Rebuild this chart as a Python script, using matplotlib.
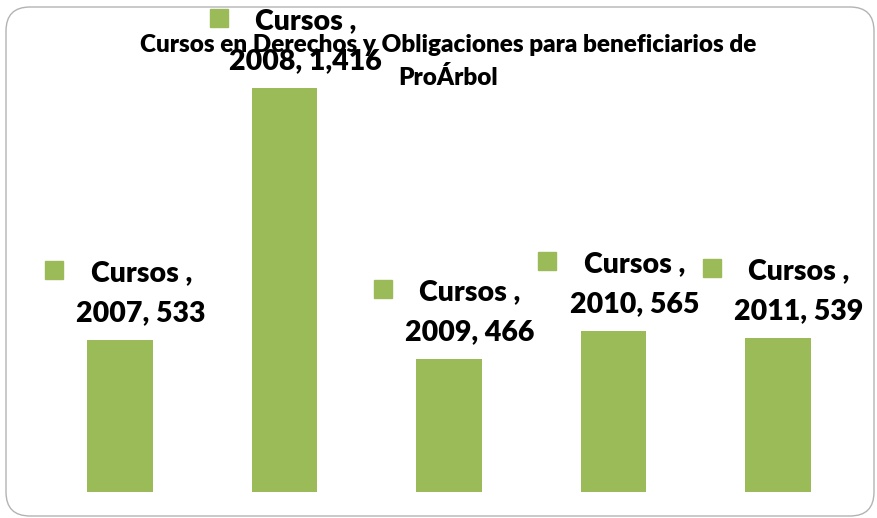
import matplotlib
matplotlib.use("Agg")
import matplotlib.pyplot as plt
from matplotlib.patches import FancyBboxPatch
from matplotlib.transforms import offset_copy

years = ["2007", "2008", "2009", "2010", "2011"]
values = [533, 1416, 466, 565, 539]
value_labels = ["533", "1,416", "466", "565", "539"]
series = "Cursos"
title = "Cursos en Derechos y Obligaciones para beneficiarios de\nProÁrbol"

green = "#9BBB59"
W, H = 878, 518
plt.rcParams['font.family'] = ['Lato', 'DejaVu Sans']

fig = plt.figure(figsize=(W / 100, H / 100), dpi=100)
fig.patch.set_facecolor("white")

border = FancyBboxPatch((6, 2), W - 10, H - 9,
                        boxstyle="round,pad=0,rounding_size=24",
                        transform=None, facecolor="none",
                        edgecolor="#b3b3b3", linewidth=1.0, zorder=-1)
fig.patches.append(border)

ax = fig.add_axes([38 / W, 26 / H, 822 / W, (492 - 88) / H])
ax.set_facecolor("none")
x = list(range(len(years)))
ax.bar(x, values, width=0.40, color=green, zorder=2)
ax.set_xlim(-0.5, len(years) - 0.5)
ax.set_ylim(0, max(values))
ax.axis("off")

for xi, v, y, lab in zip(x, values, years, value_labels):
    ax.annotate(f"{series} ,\n{y}, {lab}", xy=(xi, v), xytext=(21, 14),
                textcoords="offset pixels", ha="center", va="bottom",
                multialignment="center", fontsize=20.5, fontweight="heavy",
                linespacing=1.65, color="black", annotation_clip=False, zorder=3)
    tr = offset_copy(ax.transData, fig=fig, x=-66, y=70, units="dots")
    ax.plot([xi], [v], marker="s", ms=13, color=green, transform=tr,
            clip_on=False, zorder=3)

fig.text(448.5 / W, 1 - 61.5 / H, title, ha="center", va="center",
         fontsize=17.5, fontweight="heavy", linespacing=1.5, zorder=4)

fig.savefig("out.png", dpi=100)
